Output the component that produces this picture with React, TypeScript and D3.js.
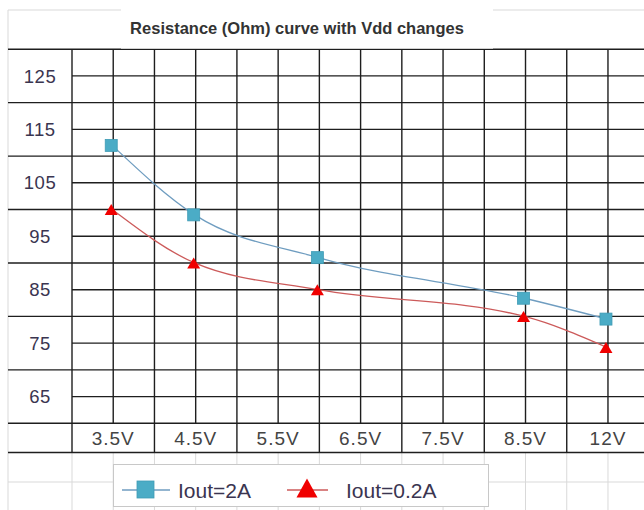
import React from 'react';
import * as d3 from 'd3';

// category labels along the bottom table row
const xTicks = ["3.5V", "4.5V", "5.5V", "6.5V", "7.5V", "8.5V", "12V"];
// labels in the left column (each cell spans 10 units)
const yTicks = [125, 115, 105, 95, 85, 75, 65];

// measured supply voltages and where they sit on the label row (tick index)
const vdd = ["3.5V", "4.5V", "6V", "8.5V", "12V"];
const vddPos = [0, 1, 2.5, 5, 6];
const iout2A = [112, 99, 91, 83.4, 79.5];
const iout02A = [100, 90, 85, 80, 74.2];

const W = 644, H = 510;
const dark = "#1e1e1e";
const light = "#d9d9d9";

const App = () => {
    const x = d3.scaleLinear().domain([-0.5, xTicks.length - 0.5]).range([72, 649.2]);
    const y = d3.scaleLinear().domain([60, 130]).range([423.3, 49.2]);
    const rowBottom = 452.5;

    const line = d3.line<number>()
        .x((d, i) => x(vddPos[i]) - 1)
        .y(d => y(d))
        .curve(d3.curveMonotoneX);

    const halfSteps = d3.range(-0.5, xTicks.length - 0.4, 0.5);
    const sheetCols = [8, ...halfSteps.map(v => x(v))];
    const tri = (cx, cy, w, h) => `M${cx},${cy - h / 2}L${cx + w / 2},${cy + h / 2}L${cx - w / 2},${cy + h / 2}Z`;

    return (
        <div style={{ position: "absolute", left: 0, top: 0 }}>
            <svg width={W} height={H} style={{ display: "block", fontFamily: "'Liberation Sans', Arial, sans-serif" }}>
                <rect width={W} height={H} fill="#fff" />

                {/* spreadsheet cells behind the chart */}
                <line x1={8} x2={W} y1={10} y2={10} stroke={light} />
                {sheetCols.map((cx, i) => (
                    <line key={"sc" + i} x1={cx} x2={cx} y1={i === 0 ? 10 : rowBottom} y2={H} stroke={light} />
                ))}
                <line x1={8} x2={W} y1={482} y2={482} stroke={light} />

                {/* left label column */}
                {d3.range(60, 131, 10).map(v => (
                    <line key={"lc" + v} x1={8} x2={72} y1={y(v)} y2={y(v)} stroke={dark} strokeWidth={1.4} />
                ))}
                {yTicks.map(v => (
                    <text key={"yt" + v} x={40} y={y(v)} dy="0.36em" textAnchor="middle"
                        fontSize={18.5} letterSpacing={0.5} fill="#3a3550">{v}</text>
                ))}

                {/* plot grid */}
                {d3.range(60, 131, 5).map(v => (
                    <line key={"hg" + v} x1={72} x2={W} y1={y(v)} y2={y(v)} stroke={dark} strokeWidth={1.4} />
                ))}
                {halfSteps.map((v, i) => (
                    <line key={"vg" + i} x1={x(v)} x2={x(v)} y1={y(130)}
                        y2={Number.isInteger(v + 0.5) ? rowBottom : y(60)} stroke={dark} strokeWidth={1.4} />
                ))}
                <line x1={8} x2={W} y1={rowBottom} y2={rowBottom} stroke={dark} strokeWidth={1.4} />
                {xTicks.map((t, i) => (
                    <text key={"xt" + t} x={x(i)} y={438.5} dy="0.36em" textAnchor="middle"
                        fontSize={19} letterSpacing={1} fill="#444">{t}</text>
                ))}

                {/* title box */}
                <rect x={121} y={0} width={372} height={48.6} fill="#fff" />
                <text x={297} y={28} dy="0.36em" textAnchor="middle" fontSize={16.5}
                    fontWeight="bold" fill="#333">Resistance (Ohm) curve with Vdd changes</text>

                {/* series */}
                <path d={line(iout2A)} fill="none" stroke="#6f9dc0" strokeWidth={1.3} />
                <path d={line(iout02A)} fill="none" stroke="#cc5a5a" strokeWidth={1.3} />
                {iout2A.map((v, i) => (
                    <rect key={"b" + vdd[i]} x={x(vddPos[i]) - 2 - 6} y={y(v) - 6} width={12} height={12}
                        fill="#4bacc6" stroke="#3f9bb5" strokeWidth={0.8} />
                ))}
                {iout02A.map((v, i) => (
                    <path key={"r" + vdd[i]} d={tri(x(vddPos[i]) - 2, y(v), 13, 11)} fill="#f00000" />
                ))}

                {/* legend */}
                <rect x={113.5} y={464.5} width={375} height={42} fill="#fff" stroke="#c8c8c8" />
                <line x1={122} x2={170} y1={490} y2={490} stroke="#6f9dc0" strokeWidth={1.5} />
                <rect x={137} y={481} width={17} height={17} fill="#4bacc6" stroke="#3f9bb5" strokeWidth={0.8} />
                <text x={178} y={490} dy="0.36em" fontSize={21} fill="#3a3550">Iout=2A</text>
                <line x1={287} x2={328} y1={490} y2={490} stroke="#cc5a5a" strokeWidth={1.5} />
                <path d={tri(307, 488, 21, 19)} fill="#f00000" />
                <text x={346} y={490} dy="0.36em" fontSize={21} fill="#3a3550">Iout=0.2A</text>
            </svg>
        </div>
    );
};

export default App;
